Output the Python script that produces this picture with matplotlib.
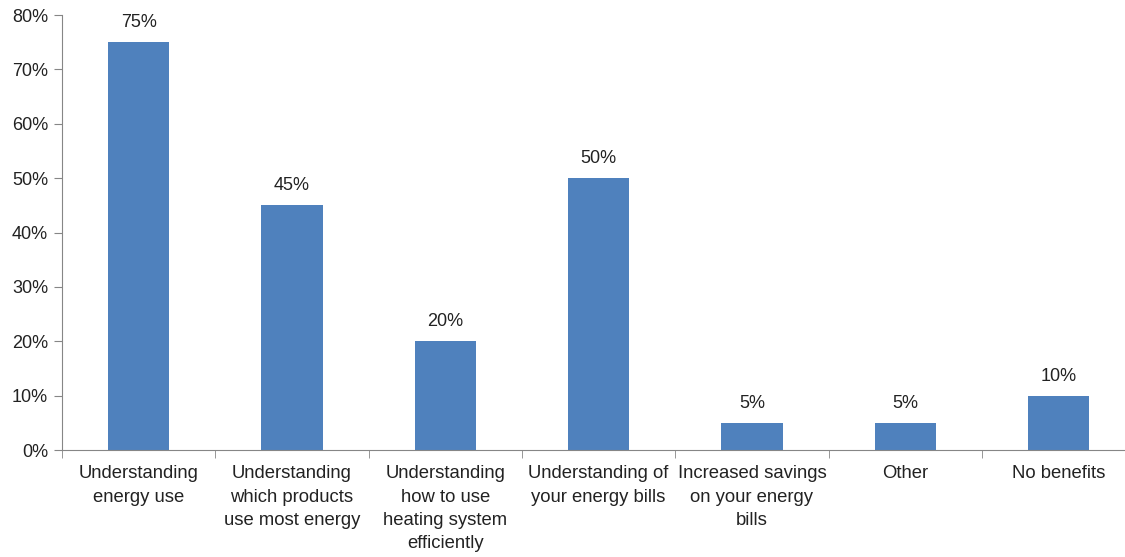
import matplotlib.pyplot as plt
from matplotlib.ticker import FixedLocator, PercentFormatter

plt.rcParams['font.family'] = ['Liberation Sans', 'DejaVu Sans']

categories = ["Understanding\nenergy use",
              "Understanding\nwhich products\nuse most energy",
              "Understanding\nhow to use\nheating system\nefficiently",
              "Understanding of\nyour energy bills",
              "Increased savings\non your energy\nbills",
              "Other",
              "No benefits"]
values = [75, 45, 20, 50, 5, 5, 10]

fig = plt.figure(figsize=(11.25, 5.57), dpi=100)
ax = fig.add_axes([0.0551, 0.192, 0.954, 0.781])

x = range(len(categories))
bars = ax.bar(x, values, width=0.4, color='#4F81BD', zorder=2)
for xi, v in zip(x, values):
    ax.text(xi, v + 2, f"{v}%", ha='center', va='bottom', fontsize=13, color='#222222')

ax.set_xlim(-0.5, len(categories) - 0.5)
ax.set_ylim(0, 80)
ax.set_yticks(range(0, 81, 10))
ax.yaxis.set_major_formatter(PercentFormatter(decimals=0))

ax.set_xticks(list(x))
ax.set_xticklabels(categories, fontsize=13.3, linespacing=1.48, color='#222222')
ax.tick_params(axis='x', length=0, pad=11)
ax.xaxis.set_minor_locator(FixedLocator([i + 0.5 for i in range(-1, len(categories))]))
ax.tick_params(axis='x', which='minor', length=6, color='#868686')
ax.tick_params(axis='y', labelsize=13, length=6, color='#868686', pad=4, labelcolor='#222222')

for s in ['top', 'right']:
    ax.spines[s].set_visible(False)
for s in ['left', 'bottom']:
    ax.spines[s].set_color('#868686')

fig.savefig('out.png')
